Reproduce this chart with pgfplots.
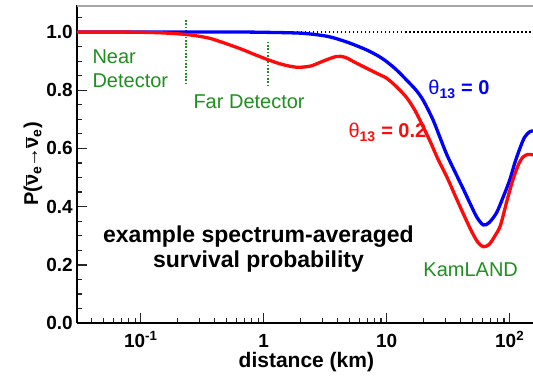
\documentclass[border=0pt]{standalone}
\usepackage{fontspec}
\setmainfont{Liberation Sans}
\usepackage{pgfplots}
\pgfplotsset{compat=1.18}

\definecolor{detgreen}{rgb}{0.12,0.56,0.12}
\definecolor{curveblue}{rgb}{0,0,1}
\definecolor{curvered}{rgb}{1,0.04,0.04}
\newcommand\nubar{$\overline{\mbox{ν}}$}

% survival probability, theta_13 = 0
\pgfplotstableread{
d P
0.0303 1.000
0.5    1.000
1.0    0.999
2.0    0.996
3.0    0.988
3.7    0.980
5.0    0.962
6.9    0.938
8.5    0.918
10.0   0.898
12.0   0.870
14.5   0.835
17.5   0.798
20.0   0.762
23.8   0.698
27.2   0.636
31.0   0.576
37.0   0.508
42.0   0.460
47.5   0.412
54.0   0.364
61.0   0.337
68.0   0.345
78.0   0.378
88.0   0.430
100.0  0.491
110.0  0.550
121.0  0.600
132.0  0.638
145.0  0.657
154.7  0.660
}\blueprob

% survival probability, theta_13 = 0.2
\pgfplotstableread{
d P
0.0303 1.000
0.06   1.000
0.10   0.999
0.15   0.997
0.24   0.991
0.35   0.980
0.45   0.966
0.65   0.942
0.85   0.922
1.08   0.905
1.40   0.889
1.85   0.879
2.40   0.883
3.00   0.899
3.90   0.916
4.60   0.913
5.50   0.896
6.90   0.875
8.40   0.857
10.0   0.841
12.0   0.812
14.5   0.775
17.0   0.730
19.5   0.680
22.5   0.625
26.0   0.565
31.0   0.500
36.0   0.438
42.0   0.375
49.0   0.315
55.0   0.278
61.0   0.262
68.0   0.270
76.0   0.300
84.0   0.335
95.0   0.420
106.0  0.491
118.0  0.545
128.0  0.570
140.0  0.579
154.7  0.578
}\redprob

\begin{document}
\begin{tikzpicture}
\path[use as bounding box] (-77pt,-53pt) rectangle (456pt,323pt);
\begin{axis}[
  at={(0,0)}, anchor=south west,
  scale only axis, width=456pt, height=318pt,
  xmode=log, xmin=0.0303, xmax=154.7,
  ymin=0, ymax=1.0928,
  axis x line*=bottom, axis y line*=left,
  axis line style={line width=1.3pt, -},
  xtick={0.1,1,10,100},
  xticklabels={10\textsuperscript{-1},1,10,10\textsuperscript{2}},
  minor xtick={0.04,0.05,0.06,0.07,0.08,0.09,
    0.2,0.3,0.4,0.5,0.6,0.7,0.8,0.9,
    2,3,4,5,6,7,8,9,
    20,30,40,50,60,70,80,90},
  ytick={0,0.2,0.4,0.6,0.8,1.0},
  minor ytick={0.05,0.1,0.15,0.25,0.3,0.35,0.45,0.5,0.55,0.65,0.7,0.75,
    0.85,0.9,0.95,1.05},
  tick align=inside,
  major tick length=10pt, minor tick length=5.5pt,
  major tick style={draw=black!85, line width=1.4pt},
  minor tick style={draw=black!85, line width=1.2pt},
  /pgf/number format/assume math mode=true,
  yticklabel style={/pgf/number format/fixed, /pgf/number format/fixed zerofill,
    /pgf/number format/precision=1},
  tick label style={font=\fontsize{19}{20}\selectfont\bfseries},
  x tick label style={anchor=base, yshift=-24pt},
  y tick label style={anchor=east, inner sep=0pt, xshift=-4pt},
  every axis x label/.style={at={(axis description cs:0.503,0)}, anchor=base,
    yshift=-44pt, font=\fontsize{21}{22}\selectfont\bfseries},
  every axis y label/.style={at={(axis description cs:-0.085,0.5)}, rotate=90,
    anchor=base, font=\fontsize{20}{22}\selectfont\bfseries},
  xlabel={distance (km)},
  ylabel={P(\nubar\textsubscript{e}\kern-1pt→\kern-1pt\nubar\textsubscript{e})},
]
% frame line on top
\draw[gray!70, line width=1.6pt] (rel axis cs:0,0.997) -- (rel axis cs:1,0.997);

% no-oscillation reference
\addplot[black, line width=1.3pt, dash pattern=on 1.5pt off 2.5pt]
  coordinates {(0.0303,1) (154.7,1)};

% detector baselines
\addplot[detgreen, line width=2.2pt, dash pattern=on 1.7pt off 1.6pt]
  coordinates {(0.235,1.041) (0.235,0.818)};
\addplot[detgreen, line width=2.2pt, dash pattern=on 1.7pt off 1.6pt]
  coordinates {(1.09,0.967) (1.09,0.812)};

\addplot[curveblue, line width=3.3pt, smooth] table[x=d, y=P] {\blueprob};
\addplot[curvered, line width=3.3pt, smooth] table[x=d, y=P] {\redprob};

\node[anchor=base west, text=detgreen, font=\fontsize{20}{22}\selectfont]
  at (rel axis cs:0.0263,0.8145) {Near};
\node[anchor=base west, text=detgreen, font=\fontsize{20}{22}\selectfont]
  at (rel axis cs:0.0263,0.742) {Detector};
\node[anchor=base west, text=detgreen, font=\fontsize{20}{22}\selectfont]
  at (rel axis cs:0.2478,0.673) {Far Detector};
\node[anchor=base west, text=detgreen, font=\fontsize{20}{22}\selectfont]
  at (rel axis cs:0.752,0.1447) {KamLAND};

\node[anchor=base west, text=curveblue, font=\fontsize{20}{22}\selectfont\bfseries]
  at (rel axis cs:0.763,0.717) {{\mdseries θ}\textsubscript{13} = 0};
\node[anchor=base west, text=curvered, font=\fontsize{20}{22}\selectfont\bfseries]
  at (rel axis cs:0.5877,0.5818) {{\mdseries θ}\textsubscript{13} = 0.2};

\node[anchor=base, font=\fontsize{23}{25}\selectfont\bfseries]
  at (rel axis cs:0.398,0.2516) {example spectrum-averaged};
\node[anchor=base, font=\fontsize{23}{25}\selectfont\bfseries]
  at (rel axis cs:0.398,0.176) {survival probability};
\end{axis}
\end{tikzpicture}
\end{document}
